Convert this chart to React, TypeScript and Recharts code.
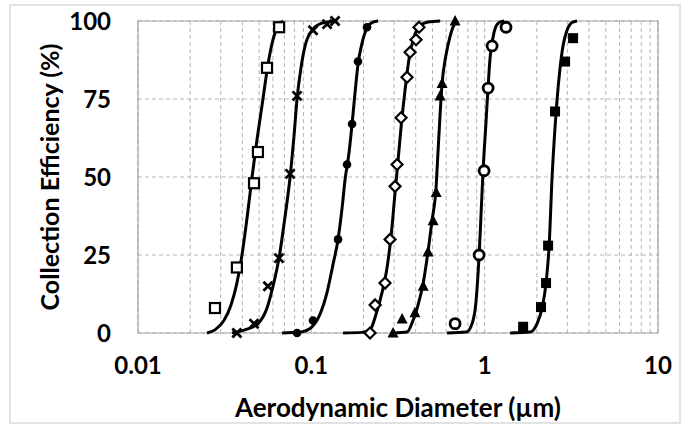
import React from 'react';
import { ComposedChart, Line, Scatter, XAxis, YAxis, CartesianGrid, ReferenceArea, Label } from 'recharts';

// fitted efficiency curves: aerodynamic diameter (µm) vs collection efficiency (%)
const curve1X = [0.025, 0.0278, 0.0313, 0.0344, 0.0372, 0.0398, 0.0426, 0.0455, 0.0486, 0.0526, 0.0562, 0.0601, 0.0643, 0.0687];
const curve1Y = [0, 1, 4, 9, 16, 25, 37, 50, 62, 75, 86, 94, 98.5, 100];
const curve2X = [0.0349, 0.0414, 0.0492, 0.0555, 0.0601, 0.0651, 0.0696, 0.0754, 0.0794, 0.0827, 0.0872, 0.092, 0.1009, 0.1153, 0.1407];
const curve2Y = [0, 1, 3, 8, 15, 24, 35, 50, 63, 75, 85, 92, 97, 99.3, 100];
const curve3X = [0.0678, 0.0861, 0.1009, 0.1122, 0.1232, 0.1334, 0.1426, 0.1504, 0.1564, 0.1652, 0.1718, 0.1787, 0.1858, 0.1963, 0.2096, 0.2239, 0.2426];
const curve3Y = [0, 0.3, 2, 6, 13, 22, 30, 40, 49, 58, 67, 77, 86, 93, 97.8, 99.5, 100];
const curve4X = [0.1524, 0.1963, 0.2181, 0.2362, 0.2559, 0.2735, 0.2884, 0.3041, 0.3162, 0.3294, 0.3475, 0.3664, 0.3917, 0.4236, 0.471, 0.5534];
const curve4Y = [0, 0.2, 1, 6, 13, 21, 31, 45, 55, 66, 78, 88, 95, 98.5, 99.7, 100];
const curve5X = [0.296, 0.3565, 0.386, 0.413, 0.442, 0.471, 0.497, 0.525, 0.538, 0.553, 0.568, 0.598, 0.631, 0.666, 0.702];
const curve5Y = [0, 0.3, 4, 9, 16, 26, 36, 47, 58, 70, 80, 89, 95, 98.8, 100];
const curve6X = [0.607, 0.782, 0.846, 0.891, 0.929, 0.953, 0.979, 1.019, 1.047, 1.074, 1.104, 1.148, 1.211, 1.294];
const curve6Y = [0, 0.3, 3, 10, 25, 38, 52, 68, 79, 88, 93, 97.5, 99.5, 100];
const curve7X = [1.402, 1.829, 2.006, 2.144, 2.26, 2.355, 2.449, 2.547, 2.618, 2.723, 2.831, 2.986, 3.192, 3.412];
const curve7Y = [0, 0.3, 3, 8, 16, 28, 50, 66, 75, 85, 92, 97, 99.5, 100];

// measured points
const meas1X = [0.0278, 0.0372, 0.0467, 0.0492, 0.0555, 0.0652];
const meas1Y = [8, 21, 48, 58, 85, 98];
const meas2X = [0.0372, 0.0467, 0.0562, 0.0651, 0.0754, 0.0827, 0.1023, 0.1232, 0.137];
const meas2Y = [0, 3, 15, 24, 51, 76, 97, 99, 100];
const meas3X = [0.0827, 0.1023, 0.1426, 0.1607, 0.1718, 0.1858, 0.2096];
const meas3Y = [0, 4, 30, 54, 67, 87, 98];
const meas4X = [0.2181, 0.2333, 0.2661, 0.2845, 0.3041, 0.3122, 0.3294, 0.3565, 0.3713, 0.4018, 0.418];
const meas4Y = [0, 9, 16, 30, 47, 54, 69, 82, 90, 94, 98];
const meas5X = [0.296, 0.334, 0.396, 0.442, 0.471, 0.504, 0.525, 0.553, 0.568, 0.675];
const meas5Y = [0, 4.5, 6.5, 15, 26, 36, 45, 76, 80, 100];
const meas6X = [0.675, 0.929, 0.993, 1.047, 1.104, 1.328];
const meas6Y = [3, 25, 52, 78.5, 92, 98];
const meas7X = [1.667, 2.114, 2.26, 2.323, 2.547, 2.91, 3.236];
const meas7Y = [2, 8.3, 16, 28, 71, 87, 94.5];

const xTicks = [
  0.01, 0.02, 0.03, 0.04, 0.05, 0.06, 0.07, 0.08, 0.09,
  0.1, 0.2, 0.3, 0.4, 0.5, 0.6, 0.7, 0.8, 0.9,
  1, 2, 3, 4, 5, 6, 7, 8, 9, 10,
];
const xLabels = [0.01, 0.1, 1, 10];
const yTicks = [0, 25, 50, 75, 100];

const zip = (xs: number[], ys: number[]) => xs.map((x, i) => ({ x, y: ys[i] }));

const curves = [
  zip(curve1X, curve1Y), zip(curve2X, curve2Y), zip(curve3X, curve3Y), zip(curve4X, curve4Y),
  zip(curve5X, curve5Y), zip(curve6X, curve6Y), zip(curve7X, curve7Y),
];

const OpenSquare = ({ cx, cy }: any) => (
  <rect x={cx - 5} y={cy - 5} width={10} height={10} fill="#fff" stroke="#000" strokeWidth={2.2} />
);
const Cross = ({ cx, cy }: any) => (
  <path d={`M${cx - 4.5},${cy - 4.5}L${cx + 4.5},${cy + 4.5}M${cx - 4.5},${cy + 4.5}L${cx + 4.5},${cy - 4.5}`} stroke="#000" strokeWidth={2.8} />
);
const Dot = ({ cx, cy }: any) => <circle cx={cx} cy={cy} r={4.3} fill="#000" />;
const OpenDiamond = ({ cx, cy }: any) => (
  <path d={`M${cx},${cy - 5.5}L${cx + 5.5},${cy}L${cx},${cy + 5.5}L${cx - 5.5},${cy}Z`} fill="#fff" stroke="#000" strokeWidth={2.2} />
);
const Triangle = ({ cx, cy }: any) => (
  <path d={`M${cx},${cy - 6}L${cx + 5.5},${cy + 4.5}L${cx - 5.5},${cy + 4.5}Z`} fill="#000" />
);
const OpenCircle = ({ cx, cy }: any) => (
  <circle cx={cx} cy={cy} r={5} fill="#fff" stroke="#000" strokeWidth={2.8} />
);
const FilledSquare = ({ cx, cy }: any) => (
  <rect x={cx - 5} y={cy - 5} width={10} height={10} fill="#000" />
);

const measured = [
  { data: zip(meas1X, meas1Y), shape: OpenSquare },
  { data: zip(meas2X, meas2Y), shape: Cross },
  { data: zip(meas3X, meas3Y), shape: Dot },
  { data: zip(meas4X, meas4Y), shape: OpenDiamond },
  { data: zip(meas5X, meas5Y), shape: Triangle },
  { data: zip(meas6X, meas6Y), shape: OpenCircle },
  { data: zip(meas7X, meas7Y), shape: FilledSquare },
];

const font = 'Lato, "Open Sans", sans-serif';
const tickStyle = { fill: '#000', fontSize: 24, fontWeight: 700, fontFamily: font };

export default function App() {
  return (
    <div>
      <div
        style={{
          position: 'absolute', left: 9, top: 4, width: 672, height: 420,
          border: '2px solid #e2e2e2', boxSizing: 'border-box',
        }}
      />
      <div style={{ position: 'absolute', left: 0, top: 0 }}>
        <ComposedChart width={686} height={425} margin={{ top: 21, right: 28, bottom: 0, left: 0 }}>
          <CartesianGrid stroke="#b5b5b5" strokeDasharray="4 3" />
          <XAxis
            dataKey="x"
            type="number"
            scale="log"
            domain={[0.01, 10]}
            allowDataOverflow
            ticks={xTicks}
            interval={0}
            tickFormatter={(v: number) => (xLabels.includes(v) ? String(v) : '')}
            tickLine={false}
            axisLine={false}
            tickMargin={18}
            height={92}
            tick={tickStyle}
          >
            <Label
              value="Aerodynamic Diameter (µm)"
              position="insideBottom"
              offset={8}
              style={{ fill: '#000', fontSize: 26, fontWeight: 700, fontFamily: font }}
            />
          </XAxis>
          <YAxis
            dataKey="y"
            type="number"
            domain={[0, 100]}
            ticks={yTicks}
            tickLine={false}
            axisLine={false}
            tickMargin={21}
            width={138}
            tick={tickStyle}
          >
            <Label
              value="Collection Efficiency (%)"
              angle={-90}
              position="center"
              dx={-19}
              style={{ fill: '#000', fontSize: 25, fontWeight: 700, fontFamily: font, textAnchor: 'middle' }}
            />
          </YAxis>
          <ReferenceArea x1={0.01} x2={10} y1={0} y2={100} fill="none" stroke="#a6a6a6" strokeWidth={1.2} />
          {curves.map((d, i) => (
            <Line
              key={`c${i}`}
              data={d}
              dataKey="y"
              type="monotone"
              stroke="#000"
              strokeWidth={3}
              dot={false}
              isAnimationActive={false}
            />
          ))}
          {measured.map((m, i) => (
            <Scatter key={`m${i}`} data={m.data} dataKey="y" shape={m.shape} isAnimationActive={false} />
          ))}
        </ComposedChart>
      </div>
    </div>
  );
}
